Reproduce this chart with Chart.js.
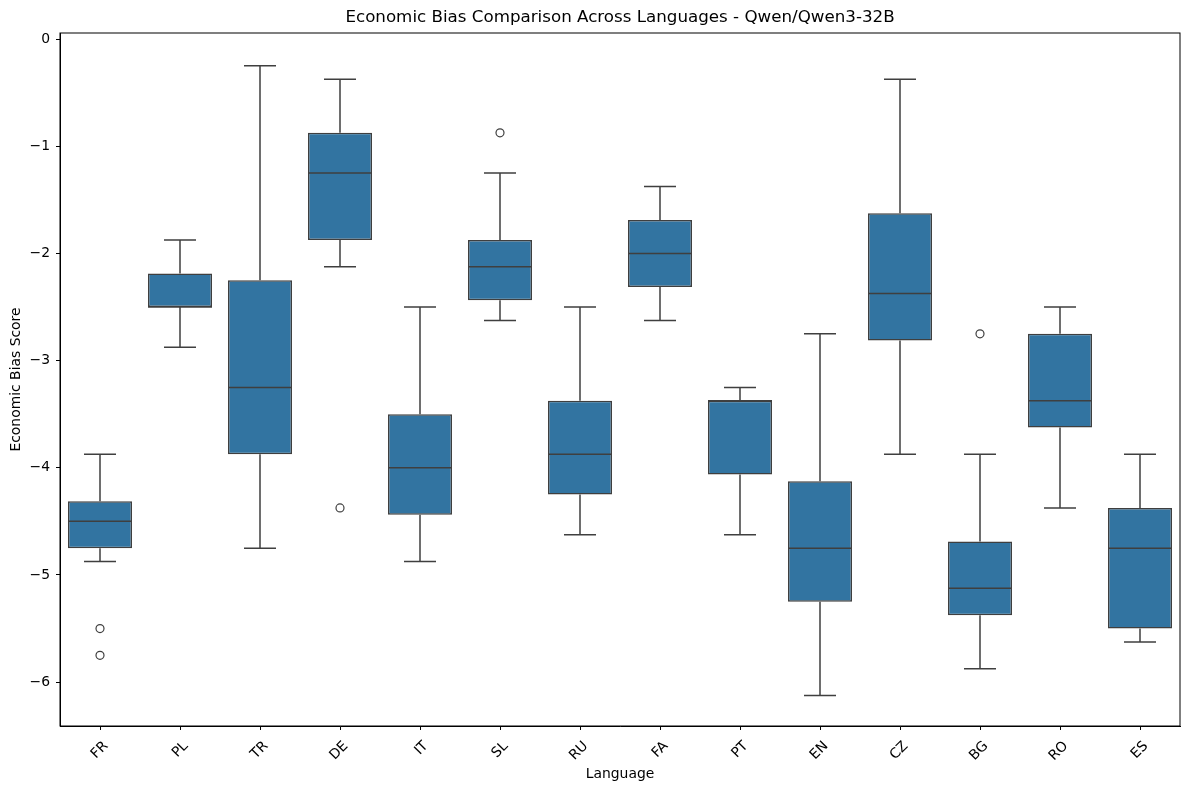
<!DOCTYPE html>
<html>
<head>
<meta charset="utf-8">
<script src="https://cdn.jsdelivr.net/npm/chart.js@4.4.1/dist/chart.umd.min.js"></script>
<style>
  body { margin: 0; background: #fff; }
  canvas { display: block; }
</style>
</head>
<body>
<canvas id="myChart" width="1189" height="790"></canvas>
<script>
// box stats
const languages = ['FR', 'PL', 'TR', 'DE', 'IT', 'SL', 'RU', 'FA', 'PT', 'EN', 'CZ', 'BG', 'RO', 'ES'];
const whiskerLow = [-4.875, -2.875, -4.75, -2.125, -4.875, -2.625, -4.625, -2.625, -4.625, -6.125, -3.875, -5.875, -4.375, -5.625];
const q1 = [-4.75, -2.5, -3.875, -1.875, -4.4375, -2.4375, -4.25, -2.3125, -4.0625, -5.25, -2.8125, -5.375, -3.625, -5.5];
const median = [-4.5, -2.5, -3.25, -1.25, -4.0, -2.125, -3.875, -2.0, -3.375, -4.75, -2.375, -5.125, -3.375, -4.75];
const q3 = [-4.3125, -2.1875, -2.25, -0.875, -3.5, -1.875, -3.375, -1.6875, -3.375, -4.125, -1.625, -4.6875, -2.75, -4.375];
const whiskerHigh = [-3.875, -1.875, -0.25, -0.375, -2.5, -1.25, -2.5, -1.375, -3.25, -2.75, -0.375, -3.875, -2.5, -3.875];

const outlierLang = ['FR', 'FR', 'DE', 'SL', 'BG'];
const outlierVal = [-5.5, -5.75, -4.375, -0.875, -2.75];

const yTicks = [-6, -5, -4, -3, -2, -1, 0];

const edge = '#3f3f3f';
const fill = '#3274a1';
const font = "'DejaVu Sans', sans-serif";

const fmt = v => (v < 0 ? '\u2212' + Math.abs(v) : String(v));

// whiskers, caps, medians, frame and title
const boxPlugin = {
    id: 'boxExtras',
    beforeDatasetsDraw(chart) {
        const ctx = chart.ctx;
        const x = chart.scales.x, y = chart.scales.y;
        const bars = chart.getDatasetMeta(0).data;
        ctx.save();
        ctx.strokeStyle = edge;
        ctx.lineWidth = 1.5;
        languages.forEach((l, i) => {
            const px = x.getPixelForValue(i);
            const cap = bars[i].width / 4;
            ctx.beginPath();
            ctx.moveTo(px, y.getPixelForValue(whiskerLow[i]));
            ctx.lineTo(px, y.getPixelForValue(q1[i]));
            ctx.moveTo(px, y.getPixelForValue(q3[i]));
            ctx.lineTo(px, y.getPixelForValue(whiskerHigh[i]));
            ctx.moveTo(px - cap, y.getPixelForValue(whiskerLow[i]));
            ctx.lineTo(px + cap, y.getPixelForValue(whiskerLow[i]));
            ctx.moveTo(px - cap, y.getPixelForValue(whiskerHigh[i]));
            ctx.lineTo(px + cap, y.getPixelForValue(whiskerHigh[i]));
            ctx.stroke();
        });
        ctx.restore();
    },
    afterDatasetsDraw(chart) {
        const ctx = chart.ctx;
        const x = chart.scales.x, y = chart.scales.y;
        const bars = chart.getDatasetMeta(0).data;
        ctx.save();
        ctx.strokeStyle = edge;
        ctx.lineWidth = 1.5;
        languages.forEach((l, i) => {
            const px = x.getPixelForValue(i);
            const half = bars[i].width / 2;
            const py = y.getPixelForValue(median[i]);
            ctx.beginPath();
            ctx.moveTo(px - half, py);
            ctx.lineTo(px + half, py);
            ctx.stroke();
        });
        ctx.restore();
    },
    afterDraw(chart) {
        const ctx = chart.ctx;
        const a = chart.chartArea;
        ctx.save();
        ctx.strokeStyle = '#000';
        ctx.lineWidth = 1;
        ctx.strokeRect(a.left, a.top, a.right - a.left, a.bottom - a.top);
        ctx.fillStyle = '#000';
        ctx.font = '16.7px ' + font;
        ctx.textAlign = 'center';
        ctx.textBaseline = 'middle';
        ctx.fillText('Economic Bias Comparison Across Languages - Qwen/Qwen3-32B', (a.left + a.right) / 2, 18);
        ctx.restore();
    }
};

new Chart('myChart', {
    type: 'bar',
    data: {
        labels: languages,
        datasets: [{
            label: 'box',
            data: languages.map((l, i) => [q1[i], q3[i]]),
            backgroundColor: fill,
            borderColor: edge,
            borderWidth: 1.5,
            borderSkipped: false,
            barPercentage: 0.8,
            categoryPercentage: 1.0
        }, {
            type: 'line',
            label: 'outliers',
            data: outlierLang.map((l, i) => ({ x: l, y: outlierVal[i] })),
            showLine: false,
            pointStyle: 'circle',
            pointRadius: 4,
            pointBorderWidth: 1.2,
            pointBorderColor: edge,
            pointBackgroundColor: 'rgba(0,0,0,0)'
        }]
    },
    options: {
        responsive: false,
        animation: false,
        devicePixelRatio: 1,
        layout: { padding: { top: 33, right: 9, left: 0, bottom: 0 } },
        plugins: {
            legend: { display: false },
            tooltip: { enabled: false }
        },
        scales: {
            x: {
                grid: { display: true, offset: false, drawOnChartArea: false, tickLength: 4, color: '#000' },
                border: { display: true, color: '#000', width: 1 },
                ticks: {
                    color: '#000',
                    font: { family: font, size: 13.9 },
                    minRotation: 45,
                    maxRotation: 45,
                    padding: 8,
                    labelOffset: 6
                },
                title: {
                    display: true,
                    text: 'Language',
                    color: '#000',
                    font: { family: font, size: 13.9 },
                    padding: { top: 0, bottom: 7 }
                },
                afterFit: s => { s.height = 64; }
            },
            y: {
                min: -6.409,
                max: 0.056,
                afterBuildTicks: s => { s.ticks = yTicks.map(v => ({ value: v })); },
                grid: { display: true, drawOnChartArea: false, tickLength: 4, color: '#000' },
                border: { display: true, color: '#000', width: 1 },
                ticks: {
                    color: '#000',
                    font: { family: font, size: 13.9 },
                    padding: 6,
                    callback: v => fmt(v)
                },
                title: {
                    display: true,
                    text: 'Economic Bias Score',
                    color: '#000',
                    font: { family: font, size: 13.9 },
                    padding: { top: 8, bottom: 0 }
                },
                afterFit: s => { s.width = 60; }
            }
        }
    },
    plugins: [boxPlugin]
});
</script>
</body>
</html>
